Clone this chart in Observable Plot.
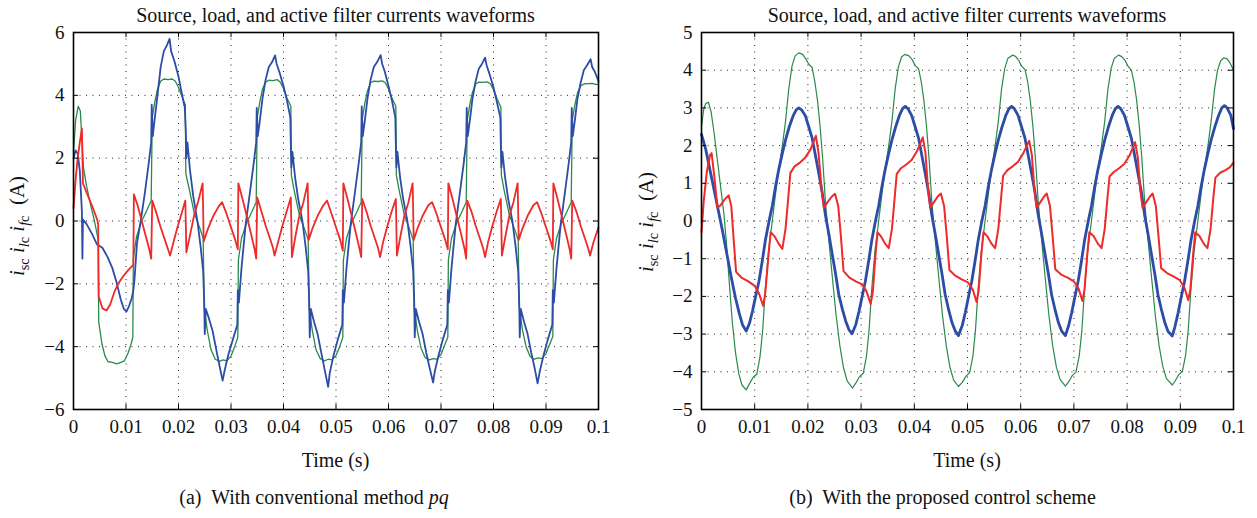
<!DOCTYPE html>
<html><head><meta charset="utf-8">
<script src="https://cdn.jsdelivr.net/npm/d3@7"></script>
<script src="https://cdn.jsdelivr.net/npm/@observablehq/plot@0.6"></script>
<style>
body{margin:0;background:#fff;}
#root{position:relative;width:1257px;height:518px;font-family:"Liberation Serif","Times New Roman",serif;color:#111;overflow:hidden}
#root svg, #root svg text{font-family:"Liberation Serif","Times New Roman",serif !important;}
.title{position:absolute;top:1px;height:28px;line-height:28px;font-size:20px;text-align:center;white-space:nowrap}
.plot{position:absolute;top:24px}
.xlab{position:absolute;top:448px;line-height:24px;font-size:20px;text-align:center;white-space:nowrap}
.cap{position:absolute;top:485px;line-height:24px;font-size:20px;text-align:center;white-space:nowrap}
.ylab{position:absolute;font-size:21px;white-space:nowrap;transform:translate(-50%,-50%) rotate(-90deg);}
.ylab sub{font-size:0.68em;vertical-align:-0.3em}
</style></head><body><div id="root"></div>
<script>
// ---------- shared tick values ----------
const timeTicks = [0, 0.01, 0.02, 0.03, 0.04, 0.05, 0.06, 0.07, 0.08, 0.09, 0.1];
const aCurrentTicks = [-6, -4, -2, 0, 2, 4, 6];
const bCurrentTicks = [-5, -4, -3, -2, -1, 0, 1, 2, 3, 4, 5];
const titleText = "Source, load, and active filter currents waveforms";
const xLabelText = "Time (s)";
const captionA = "(a)&nbsp; With conventional method <i>pq</i>";
const captionB = "(b)&nbsp; With the proposed control scheme";

// ---------- panel (a): conventional pq ----------  [time (s), current (A)]
const aLoad = [[0,2.2],[0.0004,3.2],[0.0009,3.65],[0.0013,3.5],[0.0016,2.6],[0.0019,1.7],[0.0025,1.1],[0.0032,0.55],[0.0040,0.0],[0.0047,-0.6],[0.0048,-3.2],[0.0054,-3.9],[0.0060,-4.3],[0.0066,-4.48],[0.0074,-4.5],[0.0082,-4.55],[0.0090,-4.5],[0.0097,-4.45],[0.0104,-4.2],[0.0110,-3.9],[0.0113,-3.7],
[0.0114,-1.2],[0.0120,-0.5],[0.0130,0.0],[0.0140,0.35],[0.0148,0.65],[0.0150,3.3],[0.0155,3.8],[0.0160,4.2],[0.0166,4.45],[0.0172,4.52],[0.0180,4.5],[0.0188,4.52],[0.0194,4.45],[0.0200,4.25],[0.0207,3.95],[0.0213,3.7],[0.0214,1.5],[0.0220,1.05],[0.0230,0.25],[0.0240,-0.2],[0.0247,-0.55],[0.0249,-2.8],[0.0255,-3.5],[0.0262,-4.1],[0.0270,-4.4],[0.0278,-4.47],[0.0285,-4.42],[0.0292,-4.45],[0.0300,-4.3],[0.0307,-4.0],[0.0313,-3.7],
[0.0314,-1.25],[0.0320,-0.55],[0.0330,-0.05],[0.0340,0.3],[0.0348,0.6],[0.0350,3.3],[0.0355,3.8],[0.0360,4.2],[0.0366,4.42],[0.0372,4.48],[0.0380,4.47],[0.0388,4.5],[0.0394,4.42],[0.0400,4.22],[0.0407,3.9],[0.0414,3.65],[0.0415,1.45],[0.0420,1.0],[0.0430,0.2],[0.0440,-0.25],[0.0447,-0.6],[0.0449,-2.8],[0.0455,-3.5],[0.0462,-4.1],[0.0470,-4.38],[0.0478,-4.45],[0.0485,-4.4],[0.0492,-4.42],[0.0500,-4.28],[0.0507,-4.0],[0.0513,-3.7],
[0.0514,-1.25],[0.0520,-0.55],[0.0530,-0.05],[0.0540,0.3],[0.0548,0.6],[0.0550,3.25],[0.0555,3.75],[0.0560,4.15],[0.0566,4.4],[0.0572,4.45],[0.0580,4.44],[0.0588,4.46],[0.0594,4.4],[0.0600,4.2],[0.0607,3.9],[0.0614,3.65],[0.0615,1.45],[0.0620,1.0],[0.0630,0.2],[0.0640,-0.25],[0.0647,-0.6],[0.0649,-2.8],[0.0655,-3.5],[0.0662,-4.05],[0.0670,-4.35],[0.0678,-4.42],[0.0685,-4.38],[0.0692,-4.4],[0.0700,-4.25],[0.0707,-3.95],[0.0713,-3.7],
[0.0714,-1.25],[0.0720,-0.55],[0.0730,-0.05],[0.0740,0.3],[0.0748,0.6],[0.0750,3.2],[0.0755,3.72],[0.0760,4.1],[0.0766,4.36],[0.0772,4.42],[0.0780,4.41],[0.0788,4.43],[0.0794,4.37],[0.0800,4.18],[0.0807,3.88],[0.0814,3.62],[0.0815,1.45],[0.0820,1.0],[0.0830,0.2],[0.0840,-0.25],[0.0847,-0.6],[0.0849,-2.75],[0.0855,-3.45],[0.0862,-4.0],[0.0870,-4.32],[0.0878,-4.4],[0.0885,-4.36],[0.0892,-4.38],[0.0900,-4.22],[0.0907,-3.92],[0.0913,-3.68],
[0.0914,-1.25],[0.0920,-0.55],[0.0930,-0.05],[0.0940,0.3],[0.0948,0.6],[0.0950,3.2],[0.0955,3.7],[0.0960,4.08],[0.0966,4.3],[0.0972,4.36],[0.0980,4.37],[0.0988,4.38],[0.0994,4.35],[0.1000,4.35]];

const aSource = [[0,2.0],[0.0004,2.25],[0.0008,2.15],[0.0012,1.6],[0.0016,0.3],[0.0017,-1.2],[0.0018,0.05],[0.0025,-0.1],[0.0035,-0.4],[0.0045,-0.75],[0.0055,-0.85],[0.0065,-1.15],[0.0074,-1.5],[0.0082,-1.95],[0.0090,-2.5],[0.0096,-2.8],[0.0101,-2.88],[0.0106,-2.7],[0.0111,-2.45],[0.0114,-2.2],[0.0116,-1.9],[0.0121,-0.7],
[0.0128,0.0],[0.0136,0.9],[0.0143,1.8],[0.0148,2.5],[0.0149,3.7],[0.0151,2.7],[0.0155,3.3],[0.0160,4.0],[0.0166,4.9],[0.0172,5.4],[0.0178,5.6],[0.0183,5.8],[0.0186,5.4],[0.0192,5.1],[0.0200,4.6],[0.0207,4.0],[0.0212,3.6],[0.0214,2.8],[0.0215,2.0],[0.0217,2.5],[0.0222,1.6],[0.0228,0.8],[0.0236,0.0],[0.0242,-0.8],[0.0247,-1.6],[0.0249,-2.6],[0.0250,-3.6],[0.0252,-2.8],[0.0258,-3.1],[0.0265,-3.5],[0.0272,-4.1],[0.0278,-4.6],[0.0284,-5.08],[0.0288,-4.75],[0.0295,-4.25],[0.0303,-3.8],[0.0312,-3.3],[0.0313,-2.2],[0.0315,-2.6],
[0.0320,-1.5],[0.0328,-0.1],[0.0336,0.9],[0.0343,1.8],[0.0348,2.5],[0.0349,3.6],[0.0351,2.7],[0.0355,3.2],[0.0360,3.9],[0.0366,4.5],[0.0372,4.9],[0.0378,5.05],[0.0384,5.27],[0.0387,5.0],[0.0392,4.75],[0.0400,4.3],[0.0407,3.8],[0.0413,3.3],[0.0414,2.4],[0.0415,1.7],[0.0417,2.2],[0.0422,1.4],[0.0428,0.7],[0.0436,0.0],[0.0442,-0.8],[0.0447,-1.6],[0.0449,-2.6],[0.0450,-3.7],[0.0452,-2.8],[0.0458,-3.2],[0.0465,-3.6],[0.0472,-4.2],[0.0478,-4.7],[0.0485,-5.28],[0.0488,-4.85],[0.0495,-4.3],[0.0503,-3.8],[0.0512,-3.3],[0.0513,-2.2],[0.0515,-2.6],
[0.0520,-1.5],[0.0528,-0.1],[0.0536,0.9],[0.0543,1.8],[0.0548,2.5],[0.0549,3.65],[0.0551,2.7],[0.0555,3.2],[0.0560,3.9],[0.0566,4.5],[0.0572,4.9],[0.0578,5.05],[0.0585,5.28],[0.0588,5.0],[0.0593,4.75],[0.0600,4.3],[0.0607,3.8],[0.0613,3.3],[0.0614,2.4],[0.0615,1.7],[0.0617,2.2],[0.0622,1.4],[0.0628,0.7],[0.0636,0.0],[0.0642,-0.8],[0.0647,-1.6],[0.0649,-2.6],[0.0650,-3.7],[0.0652,-2.8],[0.0658,-3.2],[0.0665,-3.6],[0.0672,-4.2],[0.0678,-4.65],[0.0685,-5.14],[0.0688,-4.8],[0.0695,-4.3],[0.0703,-3.8],[0.0712,-3.3],[0.0713,-2.2],[0.0715,-2.6],
[0.0720,-1.5],[0.0728,-0.1],[0.0736,0.9],[0.0743,1.8],[0.0748,2.5],[0.0749,3.6],[0.0751,2.7],[0.0755,3.2],[0.0760,3.9],[0.0766,4.45],[0.0772,4.85],[0.0778,5.0],[0.0784,5.2],[0.0787,4.95],[0.0792,4.7],[0.0800,4.25],[0.0807,3.75],[0.0813,3.3],[0.0814,2.4],[0.0815,1.7],[0.0817,2.2],[0.0822,1.4],[0.0828,0.7],[0.0836,0.0],[0.0842,-0.8],[0.0847,-1.6],[0.0849,-2.6],[0.0850,-3.7],[0.0852,-2.8],[0.0858,-3.2],[0.0865,-3.6],[0.0872,-4.2],[0.0878,-4.65],[0.0884,-5.17],[0.0888,-4.8],[0.0895,-4.3],[0.0903,-3.8],[0.0912,-3.3],[0.0913,-2.2],[0.0915,-2.6],
[0.0920,-1.5],[0.0928,-0.1],[0.0936,0.9],[0.0943,1.8],[0.0948,2.5],[0.0949,3.6],[0.0951,2.7],[0.0955,3.2],[0.0960,3.9],[0.0966,4.4],[0.0972,4.8],[0.0978,4.95],[0.0985,5.15],[0.0988,4.9],[0.0993,4.75],[0.1000,4.45]];

const aFilter = [[0,0.4],[0.0004,1.3],[0.0008,2.0],[0.0012,2.5],[0.0016,2.95],[0.0018,1.2],[0.0025,0.9],[0.0035,0.5],[0.0045,0.05],[0.0047,-0.1],[0.0048,-2.4],[0.0055,-2.78],[0.0063,-2.85],[0.0070,-2.65],[0.0078,-2.25],[0.0085,-2.0],[0.0095,-1.75],[0.0105,-1.55],[0.0114,-1.4],
[0.0115,0.85],[0.0122,0.5],[0.0130,0.0],[0.0138,-0.5],[0.0145,-0.95],[0.0148,-1.2],[0.0150,0.65],[0.0158,0.25],[0.0166,-0.2],[0.0174,-0.6],[0.0180,-0.9],[0.0184,-1.1],[0.0190,-0.7],[0.0198,-0.2],[0.0206,0.25],[0.0213,0.65],[0.0215,-1.0],[0.0222,-0.45],[0.0230,0.2],[0.0238,0.65],[0.0246,1.2],[0.0248,-0.65],[0.0256,-0.25],[0.0266,0.15],[0.0276,0.45],[0.0283,0.6],[0.0290,0.3],[0.0300,-0.2],[0.0308,-0.6],[0.0313,-0.9],
[0.0314,1.2],[0.0322,0.7],[0.0330,0.15],[0.0338,-0.4],[0.0345,-0.9],[0.0348,-1.2],[0.0350,0.75],[0.0358,0.3],[0.0366,-0.15],[0.0374,-0.55],[0.0380,-0.85],[0.0383,-1.1],[0.0390,-0.65],[0.0398,-0.15],[0.0406,0.3],[0.0414,0.75],[0.0416,-1.15],[0.0422,-0.55],[0.0430,0.15],[0.0438,0.6],[0.0446,1.2],[0.0448,-0.6],[0.0456,-0.2],[0.0466,0.2],[0.0476,0.5],[0.0483,0.65],[0.0490,0.3],[0.0500,-0.2],[0.0508,-0.6],[0.0513,-0.95],
[0.0514,1.2],[0.0522,0.7],[0.0530,0.15],[0.0538,-0.4],[0.0545,-0.9],[0.0548,-1.15],[0.0550,0.7],[0.0558,0.3],[0.0566,-0.15],[0.0574,-0.55],[0.0580,-0.85],[0.0584,-1.15],[0.0590,-0.65],[0.0598,-0.15],[0.0606,0.3],[0.0614,0.7],[0.0616,-1.1],[0.0622,-0.55],[0.0630,0.15],[0.0638,0.6],[0.0646,1.2],[0.0648,-0.6],[0.0656,-0.2],[0.0666,0.2],[0.0676,0.5],[0.0683,0.6],[0.0690,0.3],[0.0700,-0.2],[0.0708,-0.6],[0.0713,-0.9],
[0.0714,1.2],[0.0722,0.7],[0.0730,0.15],[0.0738,-0.4],[0.0745,-0.9],[0.0748,-1.2],[0.0750,0.65],[0.0758,0.3],[0.0766,-0.15],[0.0774,-0.55],[0.0780,-0.85],[0.0784,-1.15],[0.0790,-0.65],[0.0798,-0.15],[0.0806,0.3],[0.0814,0.7],[0.0816,-1.1],[0.0822,-0.55],[0.0830,0.15],[0.0838,0.6],[0.0846,1.2],[0.0848,-0.6],[0.0856,-0.2],[0.0866,0.2],[0.0876,0.5],[0.0883,0.6],[0.0890,0.3],[0.0900,-0.2],[0.0908,-0.6],[0.0913,-0.9],
[0.0914,1.2],[0.0922,0.7],[0.0930,0.15],[0.0938,-0.4],[0.0945,-0.9],[0.0948,-1.2],[0.0950,0.65],[0.0958,0.3],[0.0966,-0.15],[0.0974,-0.55],[0.0980,-0.85],[0.0984,-1.1],[0.0990,-0.7],[0.0996,-0.4],[0.1000,-0.2]];

// ---------- panel (b): proposed control scheme ----------
const bLoad = [[0,2.5],[0.0004,2.95],[0.0008,3.12],[0.0013,3.15],[0.0018,2.9],[0.0024,2.3],[0.0030,1.6],[0.0036,0.9],[0.0042,0.2],[0.0047,-0.6],[0.0052,-1.6],[0.0058,-2.7],[0.0064,-3.5],[0.0070,-4.05],[0.0076,-4.35],[0.0084,-4.48],
[0.0090,-4.32],[0.0097,-4.15],[0.0104,-4.06],[0.0110,-3.6],[0.0115,-2.9],[0.0120,-1.8],[0.0126,-0.8],[0.0133,0.0],[0.0139,0.7],[0.0145,1.35],[0.0152,2.0],[0.0158,2.65],[0.0164,3.5],[0.0170,4.1],[0.0176,4.38],[0.0183,4.46],[0.0190,4.42],[0.0196,4.3],[0.0202,4.15],[0.0208,4.07],[0.0213,3.7],[0.0218,3.2],[0.0223,2.5],[0.0228,1.6],[0.0233,0.5],[0.0239,-0.45],[0.0246,-1.5],[0.0253,-2.5],[0.0260,-3.3],[0.0267,-3.9],[0.0274,-4.25],[0.0284,-4.43],
[0.0290,-4.3],[0.0297,-4.13],[0.0304,-4.04],[0.0310,-3.6],[0.0315,-2.9],[0.0320,-1.8],[0.0326,-0.8],[0.0333,0.0],[0.0339,0.7],[0.0345,1.35],[0.0352,2.0],[0.0358,2.65],[0.0364,3.5],[0.0370,4.08],[0.0376,4.35],[0.0382,4.42],[0.0390,4.38],[0.0396,4.28],[0.0402,4.12],[0.0408,4.04],[0.0413,3.7],[0.0418,3.2],[0.0423,2.5],[0.0428,1.6],[0.0433,0.5],[0.0439,-0.45],[0.0446,-1.5],[0.0453,-2.5],[0.0460,-3.3],[0.0467,-3.88],[0.0474,-4.22],[0.0483,-4.39],
[0.0490,-4.28],[0.0497,-4.12],[0.0504,-4.02],[0.0510,-3.6],[0.0515,-2.9],[0.0520,-1.8],[0.0526,-0.8],[0.0533,0.0],[0.0539,0.7],[0.0545,1.35],[0.0552,2.0],[0.0558,2.65],[0.0564,3.5],[0.0570,4.05],[0.0576,4.32],[0.0585,4.4],[0.0590,4.37],[0.0596,4.27],[0.0602,4.1],[0.0608,4.02],[0.0613,3.7],[0.0618,3.2],[0.0623,2.5],[0.0628,1.6],[0.0633,0.5],[0.0639,-0.45],[0.0646,-1.5],[0.0653,-2.5],[0.0660,-3.3],[0.0667,-3.87],[0.0674,-4.2],[0.0684,-4.38],
[0.0690,-4.27],[0.0697,-4.1],[0.0704,-4.0],[0.0710,-3.58],[0.0715,-2.9],[0.0720,-1.8],[0.0726,-0.8],[0.0733,0.0],[0.0739,0.7],[0.0745,1.35],[0.0752,2.0],[0.0758,2.65],[0.0764,3.5],[0.0770,4.05],[0.0776,4.32],[0.0784,4.4],[0.0790,4.36],[0.0796,4.26],[0.0802,4.1],[0.0808,4.0],[0.0813,3.68],[0.0818,3.2],[0.0823,2.5],[0.0828,1.6],[0.0833,0.5],[0.0839,-0.45],[0.0846,-1.5],[0.0853,-2.5],[0.0860,-3.3],[0.0867,-3.85],[0.0874,-4.18],[0.0885,-4.35],
[0.0890,-4.25],[0.0897,-4.08],[0.0904,-3.98],[0.0910,-3.56],[0.0915,-2.88],[0.0920,-1.8],[0.0926,-0.8],[0.0933,0.0],[0.0939,0.7],[0.0945,1.35],[0.0952,2.0],[0.0958,2.65],[0.0964,3.45],[0.0970,4.0],[0.0976,4.25],[0.0982,4.33],[0.0988,4.3],[0.0994,4.18],[0.1000,4.0]];

const bSource = [[0,2.3],[0.0008,1.9],[0.0016,1.35],[0.0024,0.8],[0.0032,0.25],[0.0040,-0.3],[0.0048,-0.9],[0.0056,-1.5],[0.0064,-2.05],[0.0071,-2.45],[0.0077,-2.75],[0.0084,-2.92],
[0.0090,-2.72],[0.0096,-2.38],[0.0102,-1.98],[0.0108,-1.6],[0.0114,-1.08],[0.0120,-0.52],[0.0127,0.0],[0.0133,0.4],[0.0139,0.9],[0.0145,1.35],[0.0152,1.8],[0.0158,2.15],[0.0165,2.5],[0.0172,2.78],[0.0178,2.95],[0.0183,3.0],[0.0188,2.95],[0.0195,2.8],[0.0202,2.48],[0.0208,2.2],[0.0214,1.75],[0.0220,1.3],[0.0227,0.75],[0.0233,0.15],[0.0240,-0.4],[0.0246,-0.9],[0.0252,-1.4],[0.0258,-1.95],[0.0265,-2.35],[0.0271,-2.65],[0.0277,-2.88],[0.0283,-2.99],
[0.0290,-2.75],[0.0296,-2.4],[0.0302,-2.0],[0.0308,-1.6],[0.0314,-1.08],[0.0320,-0.52],[0.0327,0.0],[0.0333,0.4],[0.0339,0.9],[0.0345,1.35],[0.0352,1.8],[0.0358,2.15],[0.0365,2.5],[0.0372,2.8],[0.0378,2.98],[0.0383,3.04],[0.0388,2.98],[0.0395,2.8],[0.0402,2.48],[0.0408,2.2],[0.0414,1.75],[0.0420,1.3],[0.0427,0.75],[0.0433,0.15],[0.0440,-0.4],[0.0446,-0.9],[0.0452,-1.4],[0.0458,-1.95],[0.0465,-2.38],[0.0471,-2.7],[0.0477,-2.92],[0.0483,-3.04],
[0.0490,-2.78],[0.0496,-2.42],[0.0502,-2.0],[0.0508,-1.6],[0.0514,-1.08],[0.0520,-0.52],[0.0527,0.0],[0.0533,0.4],[0.0539,0.9],[0.0545,1.35],[0.0552,1.8],[0.0558,2.15],[0.0565,2.5],[0.0572,2.8],[0.0578,2.98],[0.0583,3.04],[0.0588,2.98],[0.0595,2.8],[0.0602,2.48],[0.0608,2.2],[0.0614,1.75],[0.0620,1.3],[0.0627,0.75],[0.0633,0.15],[0.0640,-0.4],[0.0646,-0.9],[0.0652,-1.4],[0.0658,-1.95],[0.0665,-2.38],[0.0671,-2.7],[0.0677,-2.92],[0.0684,-3.04],
[0.0690,-2.78],[0.0696,-2.42],[0.0702,-2.0],[0.0708,-1.6],[0.0714,-1.08],[0.0720,-0.52],[0.0727,0.0],[0.0733,0.4],[0.0739,0.9],[0.0745,1.35],[0.0752,1.8],[0.0758,2.15],[0.0765,2.5],[0.0772,2.8],[0.0778,2.98],[0.0783,3.04],[0.0788,2.98],[0.0795,2.8],[0.0802,2.48],[0.0808,2.2],[0.0814,1.75],[0.0820,1.3],[0.0827,0.75],[0.0833,0.15],[0.0840,-0.4],[0.0846,-0.9],[0.0852,-1.4],[0.0858,-1.95],[0.0865,-2.38],[0.0871,-2.7],[0.0877,-2.93],[0.0885,-3.05],
[0.0890,-2.8],[0.0896,-2.43],[0.0902,-2.0],[0.0908,-1.6],[0.0914,-1.08],[0.0920,-0.52],[0.0927,0.0],[0.0933,0.4],[0.0939,0.9],[0.0945,1.35],[0.0952,1.8],[0.0958,2.15],[0.0965,2.5],[0.0972,2.8],[0.0978,3.0],[0.0983,3.06],[0.0988,3.0],[0.0995,2.8],[0.1000,2.45]];

const bFilter = [[0,-0.3],[0.0004,0.5],[0.0010,1.3],[0.0016,1.75],[0.0019,1.8],[0.0024,1.2],[0.0030,0.35],[0.0036,0.42],[0.0044,0.58],[0.0051,0.68],[0.0056,0.4],[0.0060,-0.4],[0.0065,-1.35],[0.0075,-1.5],[0.0088,-1.6],[0.0100,-1.72],[0.0108,-1.92],[0.0116,-2.25],[0.0120,-1.9],[0.0126,-0.9],[0.0130,-0.3],
[0.0137,-0.4],[0.0145,-0.6],[0.0152,-0.74],[0.0158,-0.2],[0.0163,0.6],[0.0167,1.27],[0.0175,1.45],[0.0185,1.55],[0.0195,1.68],[0.0205,1.9],[0.0215,2.26],[0.0220,1.8],[0.0226,0.8],[0.0230,0.35],[0.0237,0.5],[0.0245,0.65],[0.0251,0.72],[0.0257,0.4],[0.0262,-0.4],[0.0267,-1.33],[0.0278,-1.5],[0.0290,-1.6],[0.0302,-1.68],[0.0310,-1.86],[0.0318,-2.2],[0.0322,-1.9],[0.0327,-0.9],[0.0331,-0.3],
[0.0337,-0.4],[0.0345,-0.6],[0.0352,-0.72],[0.0358,-0.2],[0.0363,0.6],[0.0367,1.25],[0.0375,1.4],[0.0385,1.5],[0.0395,1.62],[0.0405,1.85],[0.0416,2.22],[0.0421,1.8],[0.0426,0.8],[0.0430,0.35],[0.0437,0.5],[0.0444,0.65],[0.0450,0.73],[0.0456,0.4],[0.0461,-0.4],[0.0466,-1.3],[0.0477,-1.45],[0.0489,-1.55],[0.0501,-1.63],[0.0510,-1.82],[0.0517,-2.15],[0.0521,-1.85],[0.0526,-0.9],[0.0530,-0.3],
[0.0537,-0.4],[0.0545,-0.6],[0.0552,-0.72],[0.0558,-0.2],[0.0563,0.6],[0.0567,1.2],[0.0575,1.35],[0.0585,1.45],[0.0595,1.57],[0.0605,1.8],[0.0616,2.13],[0.0621,1.75],[0.0626,0.8],[0.0630,0.35],[0.0637,0.5],[0.0644,0.65],[0.0649,0.73],[0.0655,0.4],[0.0660,-0.4],[0.0665,-1.28],[0.0676,-1.42],[0.0688,-1.5],[0.0700,-1.6],[0.0709,-1.8],[0.0716,-2.12],[0.0720,-1.82],[0.0725,-0.9],[0.0729,-0.3],
[0.0737,-0.4],[0.0745,-0.6],[0.0752,-0.72],[0.0758,-0.2],[0.0763,0.6],[0.0767,1.18],[0.0775,1.3],[0.0785,1.4],[0.0795,1.52],[0.0805,1.75],[0.0815,2.09],[0.0820,1.7],[0.0825,0.8],[0.0829,0.35],[0.0836,0.5],[0.0843,0.65],[0.0848,0.73],[0.0854,0.4],[0.0859,-0.4],[0.0864,-1.25],[0.0875,-1.38],[0.0887,-1.47],[0.0899,-1.57],[0.0908,-1.78],[0.0915,-2.1],[0.0919,-1.8],[0.0924,-0.9],[0.0928,-0.3],
[0.0936,-0.4],[0.0944,-0.6],[0.0951,-0.72],[0.0957,-0.2],[0.0962,0.6],[0.0966,1.15],[0.0975,1.28],[0.0985,1.35],[0.0993,1.42],[0.1000,1.55]];

// ---------- drawing ----------
const GREEN = "#2a8a4c", BLUE = "#2c4ca6", RED = "#ee2a2a";
const root = document.getElementById("root");
const toRows = arr => arr.map(([t, v]) => ({t, v}));
const fmtX = d => d === 0 ? "0" : d3.format(".2~f")(d);
const fmtY = d => d < 0 ? "\u2212" + Math.abs(d) : String(d);

function panel(o) {
  const H = 450, mT = 8, mB = 65;
  const plotH = H - mT - mB, plotW = o.width - o.mLeft - o.mRight;
  const fig = Plot.plot({
    width: o.width, height: H,
    marginTop: mT, marginBottom: mB, marginLeft: o.mLeft, marginRight: o.mRight,
    style: {fontFamily: "Liberation Serif, serif", fontSize: "19px", color: "#111", background: "transparent", overflow: "visible"},
    x: {domain: [0, 0.1], ticks: timeTicks, tickFormat: fmtX, tickSize: 0, tickPadding: 10, label: null},
    y: {domain: o.yDomain, ticks: o.yTicks, tickFormat: fmtY, tickSize: 0, tickPadding: 9, label: null},
    marks: [
      Plot.ruleX(timeTicks, {stroke: "#222", strokeWidth: 1, strokeDasharray: "1,5.5"}),
      Plot.ruleY(o.yTicks, {stroke: "#222", strokeWidth: 1, strokeDasharray: "1,5.5"}),
      Plot.line(toRows(o.load), {x: "t", y: "v", stroke: GREEN, strokeWidth: o.wLoad}),
      Plot.line(toRows(o.source), {x: "t", y: "v", stroke: BLUE, strokeWidth: o.wSource}),
      Plot.line(toRows(o.filter), {x: "t", y: "v", stroke: RED, strokeWidth: o.wFilter}),
      Plot.ruleX(timeTicks, {stroke: "#000", insetTop: plotH - 5}),
      Plot.ruleX(timeTicks, {stroke: "#000", insetBottom: plotH - 5}),
      Plot.ruleY(o.yTicks, {stroke: "#000", insetRight: plotW - 5}),
      Plot.ruleY(o.yTicks, {stroke: "#000", insetLeft: plotW - 5}),
      Plot.frame({stroke: "#000", strokeWidth: 1.6})
    ]
  });
  const wrap = document.createElement("div");
  wrap.className = "plot";
  wrap.style.left = o.left + "px";
  wrap.appendChild(fig);
  root.appendChild(wrap);

  const px0 = o.left + o.mLeft, pw = plotW;
  const t = document.createElement("div");
  t.className = "title"; t.style.left = px0 + "px"; t.style.width = pw + "px";
  t.textContent = titleText; root.appendChild(t);

  const xl = document.createElement("div");
  xl.className = "xlab"; xl.style.left = px0 + "px"; xl.style.width = pw + "px";
  xl.textContent = xLabelText; root.appendChild(xl);

  const yl = document.createElement("div");
  yl.className = "ylab"; yl.style.left = o.yLabX + "px"; yl.style.top = o.yLabY + "px";
  yl.innerHTML = "<i>i</i><sub>sc</sub> <i>i</i><sub><i>l</i>c</sub> <i>i</i><sub><i>f</i>c</sub>&nbsp; (A)";
  root.appendChild(yl);

  const c = document.createElement("div");
  c.className = "cap"; c.style.left = o.left + "px"; c.style.width = o.width + "px";
  c.innerHTML = o.caption; root.appendChild(c);
}

panel({left: 0, width: 628, mLeft: 73, mRight: 30, yDomain: [-6, 6], yTicks: aCurrentTicks,
  load: aLoad, source: aSource, filter: aFilter, wLoad: 1.3, wSource: 1.8, wFilter: 1.8,
  yLabX: 19, yLabY: 226, caption: captionA});
panel({left: 628, width: 629, mLeft: 73, mRight: 24, yDomain: [-5, 5], yTicks: bCurrentTicks,
  load: bLoad, source: bSource, filter: bFilter, wLoad: 1.2, wSource: 2.8, wFilter: 2,
  yLabX: 648, yLabY: 222, caption: captionB});
</script>
</body></html>
